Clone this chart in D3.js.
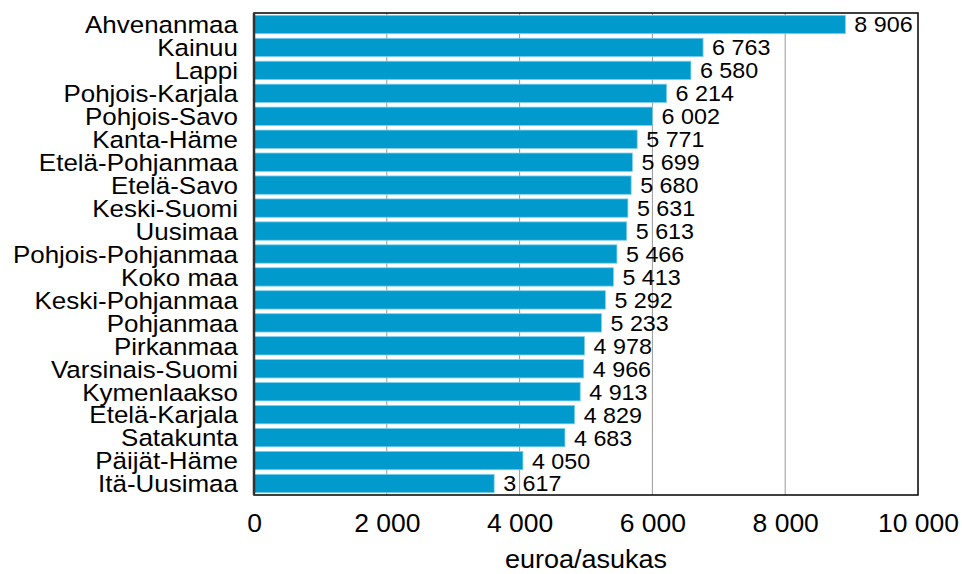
<!DOCTYPE html>
<html>
<head>
<meta charset="utf-8">
<script src="https://cdn.jsdelivr.net/npm/d3@7"></script>
<style>
  body { margin: 0; background: #fff; }
  text { font-family: "Liberation Sans", Arial, sans-serif; fill: #000; }
</style>
</head>
<body>
<div id="chart"></div>
<script>
// regions, sorted as in the source
const regions = ['Ahvenanmaa', 'Kainuu', 'Lappi', 'Pohjois-Karjala', 'Pohjois-Savo', 'Kanta-Häme',
  'Etelä-Pohjanmaa', 'Etelä-Savo', 'Keski-Suomi', 'Uusimaa', 'Pohjois-Pohjanmaa', 'Koko maa',
  'Keski-Pohjanmaa', 'Pohjanmaa', 'Pirkanmaa', 'Varsinais-Suomi', 'Kymenlaakso', 'Etelä-Karjala',
  'Satakunta', 'Päijät-Häme', 'Itä-Uusimaa'];
const values = [8906, 6763, 6580, 6214, 6002, 5771, 5699, 5680, 5631, 5613, 5466, 5413,
  5292, 5233, 4978, 4966, 4913, 4829, 4683, 4050, 3617];
const xTicks = [0, 2000, 4000, 6000, 8000, 10000];
const axisTitle = 'euroa/asukas';

const width = 962;
const height = 574;
const margin = { top: 13, right: 44, bottom: 79, left: 254 };
const innerW = width - margin.left - margin.right;
const innerH = height - margin.top - margin.bottom;
const stretch = 1.06; // source text is a little wider than it is tall

const fmt = (v) => d3.format(',')(v).replace(/,/g, '\u00a0');

const x = d3.scaleLinear().domain([0, 10000]).range([0, innerW]);
const y = d3.scaleBand().domain(regions).range([0, innerH]).paddingInner(0.2).paddingOuter(0.1);

const svg = d3.select('#chart')
  .append('svg')
  .attr('width', width)
  .attr('height', height);

const g = svg.append('g')
  .attr('transform', `translate(${margin.left}, ${margin.top})`);

const place = (px, py) => `translate(${px}, ${py}) scale(${stretch}, 1)`;

// grid lines
g.selectAll('.grid')
  .data(xTicks.slice(1, -1))
  .enter().append('line')
  .attr('x1', (d) => x(d)).attr('x2', (d) => x(d))
  .attr('y1', 0).attr('y2', innerH)
  .attr('stroke', '#999').attr('stroke-width', 1);

// bars
g.selectAll('.bar')
  .data(values)
  .enter().append('rect')
  .attr('x', 0)
  .attr('y', (d, i) => y(regions[i]))
  .attr('width', (d) => x(d))
  .attr('height', y.bandwidth())
  .attr('fill', '#009ACC')
  .attr('stroke', '#7fd0ee')
  .attr('stroke-width', 0.8);

// value labels
g.selectAll('.val')
  .data(values)
  .enter().append('text')
  .attr('transform', (d, i) => place(x(d) + 9, y(regions[i]) + y.bandwidth() / 2))
  .attr('dy', '0.36em')
  .style('font-size', '22px')
  .text((d) => fmt(d));

// frame
g.append('rect')
  .attr('width', innerW).attr('height', innerH)
  .attr('fill', 'none').attr('stroke', '#000').attr('stroke-width', 1.5);
g.append('line')
  .attr('x1', 0).attr('x2', 0).attr('y1', 0).attr('y2', innerH)
  .attr('stroke', '#333').attr('stroke-width', 2.5);

// category labels
g.selectAll('.cat')
  .data(regions)
  .enter().append('text')
  .attr('transform', (d) => place(-16, y(d) + y.bandwidth() / 2))
  .attr('dy', '0.36em')
  .attr('text-anchor', 'end')
  .style('font-size', '24.5px')
  .text((d) => d);

// x axis
const xAxis = g.append('g')
  .attr('transform', `translate(0, ${innerH})`)
  .call(d3.axisBottom(x).tickValues(xTicks).tickSize(0).tickFormat(fmt));
xAxis.select('.domain').remove();
xAxis.selectAll('text')
  .attr('y', null).attr('dy', null)
  .attr('transform', place(0, 37))
  .style('font-size', '25px');

svg.append('text')
  .attr('transform', place(margin.left + innerW / 2, 568))
  .attr('text-anchor', 'middle')
  .style('font-size', '25.5px')
  .text(axisTitle);
</script>
</body>
</html>
